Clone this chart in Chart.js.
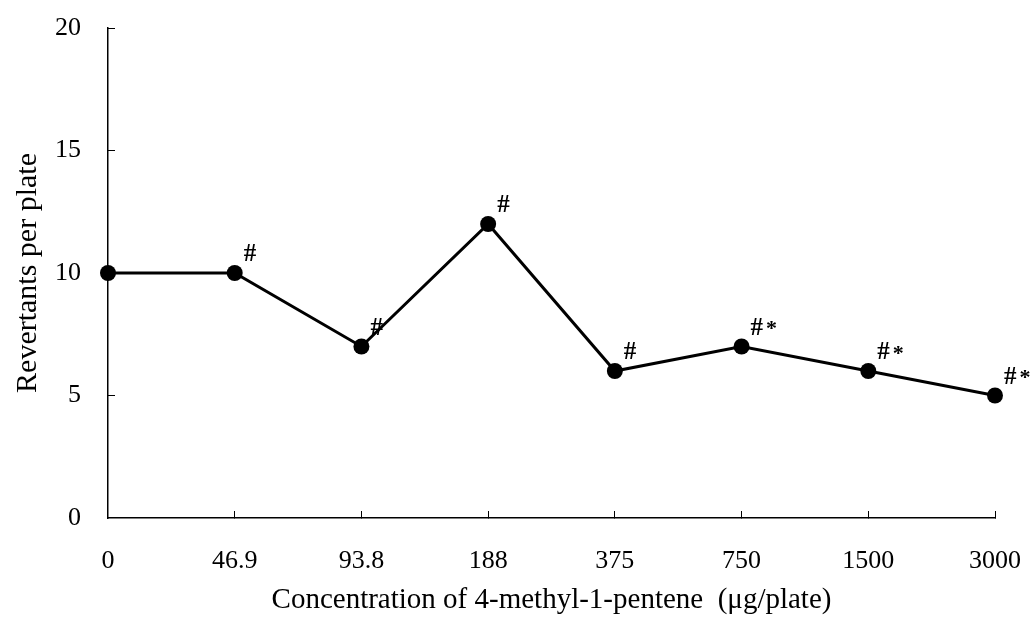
<!DOCTYPE html>
<html>
<head>
<meta charset="utf-8">
<script src="https://cdn.jsdelivr.net/npm/chart.js@4.4.1/dist/chart.umd.min.js"></script>
<style>
  html, body { margin: 0; padding: 0; background: #fff; }
  #wrap { width: 1035px; height: 624px; }
</style>
</head>
<body>
<div id="wrap"><canvas id="chart" width="1035" height="624"></canvas></div>
<script>
// data
const concentraciones = ["0", "46.9", "93.8", "188", "375", "750", "1500", "3000"];
const revertantes = [10, 10, 7, 12, 6, 7, 6, 5];
const marcas = ["", "#", "#", "#", "#", "#*", "#*", "#*"];
const ticksY = [0, 5, 10, 15, 20];

const serif = "'Liberation Serif', 'Times New Roman', serif";

// marks (# and *) next to each point
const marcasPlugin = {
  id: "marcas",
  afterDatasetsDraw(chart) {
    const ctx = chart.ctx;
    const meta = chart.getDatasetMeta(0);
    ctx.save();
    ctx.fillStyle = "#000";
    ctx.textBaseline = "middle";
    meta.data.forEach((pt, i) => {
      const txt = marcas[i];
      if (!txt) return;
      let x = pt.x + 9;
      const y = pt.y - 18;
      ctx.font = "bold 25px " + serif;
      ctx.textAlign = "left";
      ctx.fillText("#", x, y);
      if (txt.includes("*")) {
        x += ctx.measureText("#").width + 3;
        ctx.font = "bold 22px " + serif;
        ctx.fillText("*", x, y + 1);
      }
    });
    ctx.restore();
  }
};

// the tick padding would otherwise widen the plot margins
function sinMargen(s) {
  s.paddingTop = 0;
  s.paddingBottom = 0;
  s.paddingLeft = 0;
  s.paddingRight = 0;
}

const ctx = document.getElementById("chart").getContext("2d");

new Chart(ctx, {
  type: "line",
  data: {
    labels: concentraciones,
    datasets: [{
      data: revertantes,
      borderColor: "#000",
      borderWidth: 3,
      backgroundColor: "#000",
      pointBackgroundColor: "#000",
      pointBorderColor: "#000",
      pointRadius: 8,
      pointBorderWidth: 0,
      tension: 0,
      fill: false
    }]
  },
  options: {
    responsive: false,
    animation: false,
    layout: { autoPadding: false, padding: { top: 28, right: 40, left: 0, bottom: 0 } },
    plugins: {
      legend: { display: false },
      tooltip: { enabled: false }
    },
    scales: {
      x: {
        type: "category",
        offset: false,
        afterFit: s => { s.height = 106; sinMargen(s); },
        border: { display: true, color: "#000", width: 1.5 },
        grid: {
          drawOnChartArea: false,
          drawTicks: true,
          tickLength: -7,
          color: ctx2 => ctx2.index === 0 ? "rgba(0,0,0,0)" : "#000",
          lineWidth: 1
        },
        ticks: {
          color: "#000",
          font: { family: serif, size: 26 },
          padding: 35,
          maxRotation: 0,
          autoSkip: false
        },
        title: {
          display: true,
          text: "Concentration of 4-methyl-1-pentene  (\u03bcg/plate)",
          color: "#000",
          font: { family: serif, size: 29 },
          padding: { top: 4, bottom: 6 }
        }
      },
      y: {
        min: 0,
        max: 20,
        afterBuildTicks: s => { s.ticks = ticksY.map(v => ({ value: v })); },
        afterFit: s => { s.width = 108; sinMargen(s); },
        border: { display: true, color: "#000", width: 1.5 },
        grid: {
          drawOnChartArea: false,
          drawTicks: true,
          tickLength: -7,
          color: ctx2 => ctx2.index === 0 ? "rgba(0,0,0,0)" : "#000",
          lineWidth: 1
        },
        ticks: {
          color: "#000",
          font: { family: serif, size: 26 },
          padding: 34
        },
        title: {
          display: true,
          text: "Revertants per plate",
          color: "#000",
          font: { family: serif, size: 30 },
          padding: { top: 10, bottom: 0 }
        }
      }
    }
  },
  plugins: [marcasPlugin]
});
</script>
</body>
</html>
